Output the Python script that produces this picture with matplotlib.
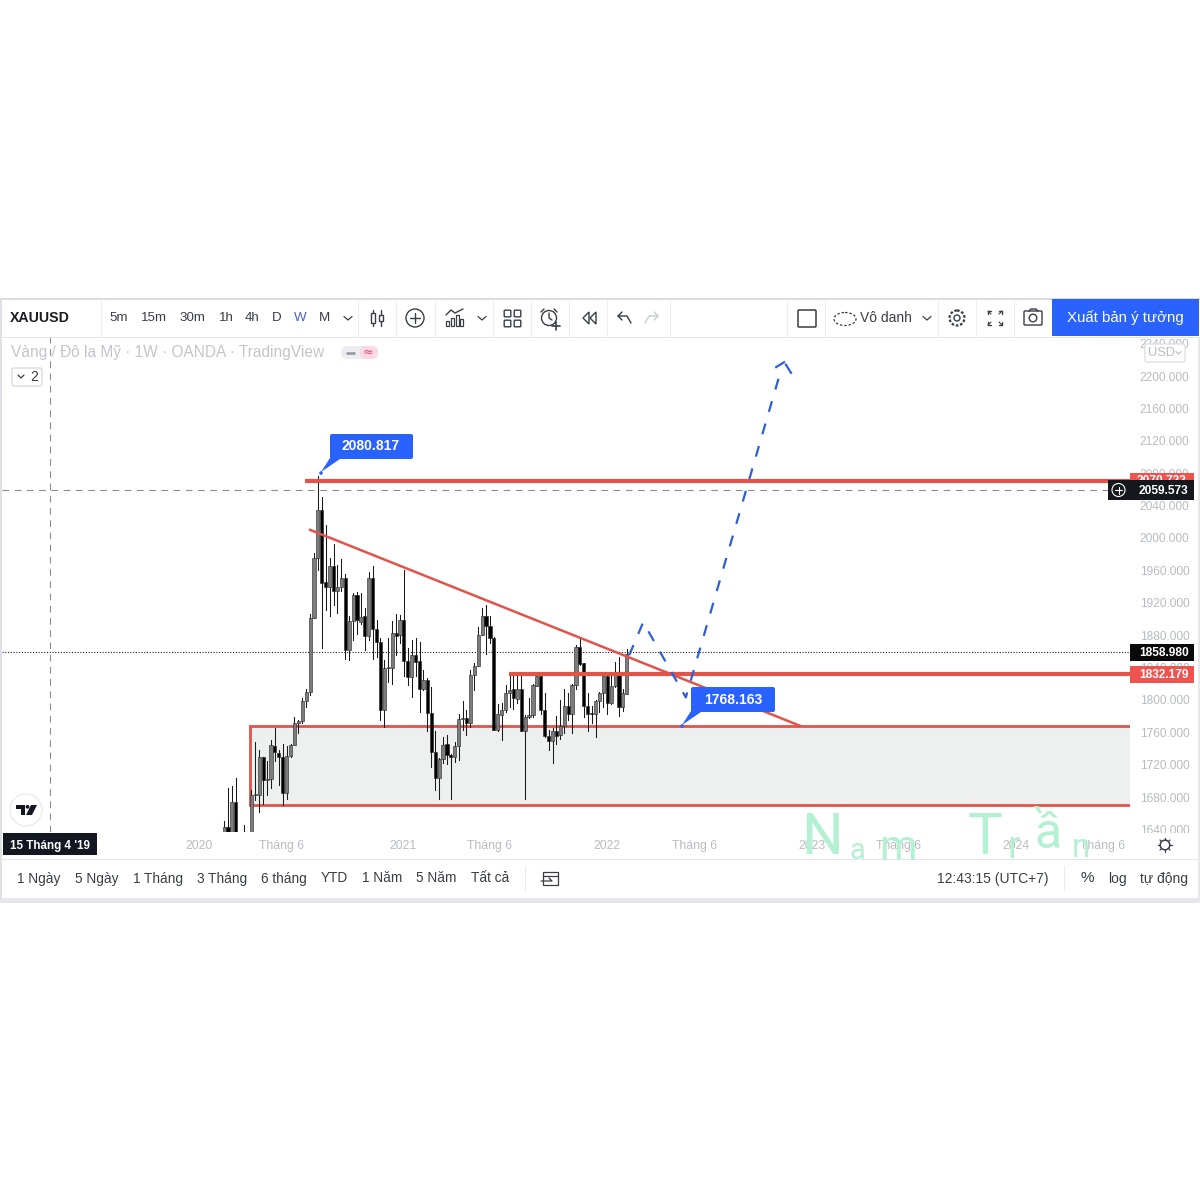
import matplotlib
matplotlib.use("Agg")
import matplotlib.pyplot as plt
from matplotlib.patches import Rectangle, Circle, FancyBboxPatch, Polygon, Ellipse

plt.rcParams['font.family'] = ['Liberation Sans', 'DejaVu Sans']

# weekly candles, x is weeks after the 2020 tick
weeks = [6.4, 7.4, 8.4, 9.4, 11.4] + [w + 0.4 for w in range(13, 110)]
opens = [1625, 1643, 1625, 1674, 1625, 1625, 1682, 1682, 1730, 1701, 1702, 1743, 1734, 1730, 1685, 1731, 1744, 1771, 1774, 1798,
         1810, 1901, 1975, 2034, 1945, 1940, 1965, 1934, 1940, 1950, 1861, 1898, 1930, 1896, 1903, 1879, 1951, 1888, 1871, 1787,
         1839, 1839, 1882, 1880, 1899, 1848, 1828, 1855, 1848, 1813, 1825, 1784, 1735, 1703, 1727, 1745, 1732, 1729, 1743, 1776,
         1777, 1771, 1831, 1842, 1880, 1903, 1891, 1877, 1763, 1781, 1787, 1808, 1814, 1801, 1813, 1762, 1779, 1781, 1817, 1829,
         1787, 1755, 1749, 1762, 1756, 1768, 1793, 1782, 1818, 1865, 1845, 1792, 1783, 1783, 1798, 1809, 1829, 1796, 1817, 1833,
         1791, 1807]
highs = [1650, 1691, 1693, 1703, 1645, 1689, 1748, 1738, 1730, 1724, 1751, 1765, 1738, 1745, 1743, 1745, 1779, 1775, 1802, 1814,
         1906, 1981, 2076, 2050, 2016, 1975, 1992, 1967, 1974, 1956, 1903, 1932, 1933, 1932, 1913, 1958, 1965, 1899, 1876, 1849,
         1876, 1897, 1906, 1905, 1960, 1864, 1874, 1876, 1872, 1837, 1827, 1816, 1761, 1728, 1754, 1756, 1733, 1748, 1783, 1798,
         1787, 1837, 1845, 1890, 1913, 1917, 1903, 1878, 1795, 1796, 1818, 1833, 1831, 1833, 1831, 1781, 1802, 1819, 1833, 1831,
         1808, 1763, 1765, 1780, 1800, 1813, 1808, 1819, 1868, 1876, 1846, 1808, 1793, 1800, 1810, 1831, 1831, 1829, 1847, 1853,
         1814, 1863]
lows = [1625, 1625, 1625, 1625, 1625, 1625, 1676, 1662, 1672, 1682, 1691, 1724, 1695, 1670, 1677, 1730, 1744, 1759, 1771, 1791,
        1806, 1901, 1960, 1864, 1911, 1903, 1917, 1907, 1934, 1850, 1849, 1874, 1881, 1894, 1861, 1874, 1850, 1853, 1775, 1767,
        1822, 1820, 1855, 1870, 1829, 1818, 1804, 1829, 1785, 1812, 1761, 1717, 1689, 1677, 1722, 1721, 1678, 1723, 1726, 1763,
        1756, 1767, 1812, 1842, 1880, 1857, 1870, 1763, 1762, 1750, 1785, 1791, 1789, 1796, 1761, 1678, 1777, 1779, 1817, 1783,
        1754, 1738, 1722, 1746, 1752, 1759, 1775, 1759, 1814, 1843, 1779, 1762, 1771, 1754, 1785, 1791, 1782, 1795, 1816, 1780,
        1786, 1807]
closes = [1643, 1625, 1674, 1625, 1628, 1682, 1684, 1730, 1701, 1702, 1744, 1735, 1729, 1685, 1731, 1744, 1771, 1774, 1798, 1810,
          1901, 1975, 2034, 1944, 1940, 1965, 1934, 1940, 1950, 1861, 1898, 1930, 1899, 1902, 1879, 1951, 1888, 1871, 1787, 1839,
          1840, 1882, 1879, 1899, 1848, 1828, 1855, 1847, 1813, 1825, 1784, 1735, 1703, 1727, 1744, 1732, 1730, 1743, 1776, 1777,
          1771, 1831, 1842, 1880, 1903, 1891, 1877, 1763, 1782, 1787, 1809, 1812, 1802, 1813, 1761, 1779, 1781, 1818, 1829, 1787,
          1755, 1749, 1762, 1755, 1768, 1793, 1782, 1818, 1865, 1844, 1792, 1782, 1782, 1798, 1809, 1829, 1796, 1817, 1833, 1791,
          1808, 1857]

price_ticks = [2240, 2200, 2160, 2120, 2080, 2040, 2000, 1960, 1920, 1880, 1840, 1800, 1760, 1720, 1680, 1640]
time_ticks = [0, 21, 52.2, 74.2, 104.3, 126.6, 156.8, 178.8, 209, 231]
time_labels = ['2020', 'Tháng 6', '2021', 'Tháng 6', '2022', 'Tháng 6', '2023', 'Tháng 6', '2024', 'Tháng 6']

peak_price = 2080.817
resist_price = 2070.722
mid_price = 1832.179
box_top = 1768.163
box_bottom = 1670
cross_price = 2059.573
last_price = 1858.980
cross_week = -38.1

trend_weeks = [28.4, 153.7]
trend_prices = [2010, 1768]
path_weeks = [110, 113.6, 124.5, 149.0]
path_prices = [1855, 1896, 1803, 2210]
head_left_weeks = [147.6, 149.6]
head_left_prices = [2211, 2217]
head_right_weeks = [150.1, 151.4]
head_right_prices = [2214, 2204]

top_frames = [('5m', 119), ('15m', 154), ('30m', 192), ('1h', 226), ('4h', 252), ('D', 277), ('W', 300), ('M', 324)]
bottom_ranges = [('1 Ngày', 39), ('5 Ngày', 97), ('1 Tháng', 158), ('3 Tháng', 222), ('6 tháng', 284), ('YTD', 334),
                 ('1 Năm', 382), ('5 Năm', 436), ('Tất cả', 490)]
separators = [101, 358, 396, 435, 493, 531, 569, 607, 670, 787, 825, 938, 976, 1014]

BLUE = '#2962ff'
RED = '#ef5350'
LINE_RED = '#e2534a'
GREY = '#b8bbc2'
DARK = '#3a3d46'

fig = plt.figure(figsize=(12, 12), dpi=100, facecolor='white')


def pixel_rect(x0, y0, x1, y1):
    return [x0 / 1200, 1 - y1 / 1200, (x1 - x0) / 1200, (y1 - y0) / 1200]


# chart panel
ax = fig.add_axes(pixel_rect(2, 337, 1130, 832), zorder=1)
ax.set_xlim(-50.4, 238.1)
ax.set_ylim(1636.8, 2248.2)
for s in ax.spines.values():
    s.set_visible(False)
ax.yaxis.tick_right()
ax.set_yticks(price_ticks)
ax.set_yticklabels(['%.3f' % p for p in price_ticks], fontsize=8.6, color=GREY)
ax.set_xticks(time_ticks)
ax.set_xticklabels(time_labels, fontsize=8.8, color=GREY)
ax.tick_params(axis='y', length=0, pad=7)
ax.tick_params(axis='x', length=0, pad=5.8)

# zone and levels
ax.add_patch(Rectangle((13, box_bottom), 225, box_top - box_bottom, facecolor='#eeefef', edgecolor='none', zorder=1))
ax.plot([13, 13], [box_bottom, box_top], color=LINE_RED, lw=2, zorder=2, solid_capstyle='butt')
ax.plot([13, 238.1], [box_top, box_top], color=LINE_RED, lw=2, zorder=2)
ax.plot([13, 238.1], [box_bottom, box_bottom], color=LINE_RED, lw=2, zorder=2)
ax.plot([27, 238.1], [resist_price, resist_price], color=LINE_RED, lw=3, zorder=5, solid_capstyle='butt')
ax.plot([79.3, 238.1], [mid_price, mid_price], color=LINE_RED, lw=3, zorder=5, solid_capstyle='butt')
ax.plot(trend_weeks, trend_prices, color=LINE_RED, lw=1.8, zorder=5)

# crosshair and last price line
ax.axhline(cross_price, color='#8a8d95', lw=0.8, dashes=(6, 5), zorder=2)
ax.axvline(cross_week, color='#8a8d95', lw=0.8, dashes=(6, 5), zorder=2)
ax.axhline(last_price, color='#222222', lw=0.8, dashes=(1, 1.5), zorder=2)

# candles
for w, o, h, l, c in zip(weeks, opens, highs, lows, closes):
    ax.plot([w, w], [l, h], color='#1a1a1a', lw=0.75, zorder=3)
    face = '#7c7c7c' if c >= o else '#000000'
    ax.add_patch(Rectangle((w - 0.4, min(o, c)), 0.8, max(abs(c - o), 1.2),
                           facecolor=face, edgecolor='#222222', lw=0.4, zorder=4))

# projected path
ax.plot(path_weeks, path_prices, color='#2f5fd8', lw=1.6, dashes=(5, 5.5), zorder=6)
ax.plot(head_left_weeks, head_left_prices, color='#2f5fd8', lw=1.6, zorder=6)
ax.plot(head_right_weeks, head_right_prices, color='#2f5fd8', lw=1.6, zorder=6)

# everything around the chart is drawn in image pixels
ui = fig.add_axes([0, 0, 1, 1], zorder=2)
ui.set_xlim(0, 1200)
ui.set_ylim(1200, 0)
ui.axis('off')
ui.patch.set_alpha(0)


def box(x0, y0, x1, y1, color, z=2, **kw):
    ui.add_patch(Rectangle((x0, y0), x1 - x0, y1 - y0, facecolor=color, edgecolor='none', zorder=z, **kw))


def line(xs, ys, color=DARK, lw=1.0, z=4, **kw):
    ui.plot(xs, ys, color=color, lw=lw, zorder=z, solid_capstyle='round', **kw)


def label(x, y, s, size=10, color=DARK, ha='center', z=5, **kw):
    ui.text(x, y, s, fontsize=size, color=color, ha=ha, va='center', zorder=z, **kw)


# panels that hide the chart edges
box(0, 298, 1200, 337, 'white')
box(1130, 833, 1200, 859, 'white', z=2)
box(0, 859, 1200, 899, 'white')
box(0, 298, 1200, 299.5, '#d9dbe0', z=3)
box(0, 336.5, 1200, 337.5, '#e3e5ea', z=3)
box(0, 859, 1200, 860, '#e3e5ea', z=3)
box(0, 898, 1200, 903, '#e6e7ea', z=3)
box(0, 298, 2, 899, '#dfe1e6', z=3)
box(1198, 337, 1200, 899, '#e6e7ea', z=3)
for x in separators:
    box(x, 299, x + 1, 337, '#eceef1', z=3)

label(40, 318, 'XAUUSD', size=10.2, color='#1a1c22', fontweight='bold')
for s, x in top_frames:
    label(x, 318, s, size=9.6, color='#4a5fd0' if s == 'W' else DARK)
line([344, 348, 352], [316.5, 320, 316.5], lw=0.9)

# candle icon
line([373, 373], [310, 326])
line([381, 381], [310, 326])
ui.add_patch(Rectangle((371, 313), 4, 10, facecolor='white', edgecolor=DARK, lw=1, zorder=5))
ui.add_patch(Rectangle((379, 315), 4, 6, facecolor='white', edgecolor=DARK, lw=1, zorder=5))
# plus icon
ui.add_patch(Circle((415, 318), 9, facecolor='none', edgecolor=DARK, lw=1, zorder=4))
line([410, 420], [318, 318])
line([415, 415], [313, 323])
# indicators icon
line([446, 451, 455, 463], [315, 310, 313, 309])
for x, h in [(447, 5), (452, 8), (457, 11), (461, 7)]:
    ui.add_patch(Rectangle((x - 1.5, 326 - h), 3, h, facecolor='white', edgecolor=DARK, lw=0.9, zorder=4))
line([478, 482, 486], [316.5, 320, 316.5], lw=0.9)
# layout icon
for x in (504, 514):
    for y in (310, 320):
        ui.add_patch(FancyBboxPatch((x + 1, y + 1), 5, 5, boxstyle='round,pad=0.8', facecolor='none', edgecolor=DARK, lw=1, zorder=4))
# alarm icon
ui.add_patch(Circle((549, 318), 7.5, facecolor='white', edgecolor=DARK, lw=1, zorder=4))
line([549, 549, 552], [313, 318, 320])
line([541, 544], [312, 309])
line([557, 554], [312, 309])
line([552, 560], [326, 326], lw=1.2, z=6)
line([556, 556], [322, 330], lw=1.2, z=6)
# rewind icon
ui.add_patch(Polygon([(589, 312), (583, 318), (589, 324)], closed=True, facecolor='none', edgecolor=DARK, lw=1, zorder=4))
ui.add_patch(Polygon([(596, 312), (590, 318), (596, 324)], closed=True, facecolor='none', edgecolor=DARK, lw=1, zorder=4))
# undo and redo
line([631, 627, 618, 622], [323, 316, 316, 312])
line([618, 622], [316, 320])
line([645, 649, 658, 654], [323, 316, 316, 312], color='#c8cad0')
line([658, 654], [316, 320], color='#c8cad0')
# square
ui.add_patch(FancyBboxPatch((799, 311), 16, 15, boxstyle='round,pad=1', facecolor='none', edgecolor=DARK, lw=1.1, zorder=4))
# cloud
ui.add_patch(Ellipse((845, 319), 22, 13, facecolor='none', edgecolor=DARK, lw=0.9, ls=(0, (2, 1.5)), zorder=4))
label(886, 317.5, 'Vô danh', size=10)
line([923, 927, 931], [316.5, 320, 316.5], lw=0.9)
# gear
ui.add_patch(Circle((957, 318), 7.5, facecolor='none', edgecolor=DARK, lw=1.6, ls=(0, (1.2, 0.8)), zorder=4))
ui.add_patch(Circle((957, 318), 3, facecolor='none', edgecolor=DARK, lw=1, zorder=4))
# fullscreen
for sx, sy in [(-1, -1), (1, -1), (-1, 1), (1, 1)]:
    cx, cy = 995 + sx * 7, 318 + sy * 7
    line([cx - sx * 3, cx, cx], [cy, cy, cy - sy * 3])
    line([cx, cx - sx * 3], [cy, cy - sy * 3], lw=0.8)
# camera
ui.add_patch(FancyBboxPatch((1025, 312), 16, 12, boxstyle='round,pad=1', facecolor='white', edgecolor=DARK, lw=1, zorder=4))
ui.add_patch(Circle((1033, 318), 3.8, facecolor='none', edgecolor=DARK, lw=1, zorder=5))
line([1029, 1031, 1036, 1038], [311, 309, 309, 311])
# publish button
box(1052, 299, 1199, 336, BLUE, z=4)
label(1125.5, 318, 'Xuất bản ý tưởng', size=10.8, color='white')

# legend row
label(11, 352.5, 'Vàng / Đô la Mỹ · 1W · OANDA · TradingView', size=11.2, color='#c3c5cb', ha='left')
ui.add_patch(FancyBboxPatch((341, 346), 37, 13, boxstyle='round,pad=0,rounding_size=6', facecolor='#ececf1', edgecolor='none', zorder=3))
ui.add_patch(FancyBboxPatch((360, 346), 18, 13, boxstyle='round,pad=0,rounding_size=6', facecolor='#fbd9e3', edgecolor='none', zorder=3))
line([347, 354], [352.5, 352.5], color='#9a9ca5', lw=2)
label(368, 352, '≈', size=9, color='#e0457b', family=['DejaVu Sans'])
ui.add_patch(FancyBboxPatch((12, 368), 30, 18, boxstyle='round,pad=0,rounding_size=2', facecolor='white', edgecolor='#d5d7dc', lw=0.9, zorder=4))
line([18, 21, 24], [375, 378, 375], lw=0.9, z=5)
label(34, 377, '2', size=10)

# USD button hides the top tick
ui.add_patch(FancyBboxPatch((1145, 344), 40, 18, boxstyle='round,pad=0,rounding_size=2', facecolor='white', edgecolor='#dcdee3', lw=0.9, zorder=4))
label(1161, 353, 'USD', size=9.2, color=GREY)
line([1176, 1178.5, 1181], [351.5, 354, 351.5], color=GREY, lw=0.8)

# price labels on the scale
box(1130, 473, 1194, 484, RED, z=3)
label(1162, 481, '2070.722', size=8.6, color='white', fontweight='bold', z=3)
box(1108, 480, 1130, 500, '#15171d', z=4)
ui.add_patch(Circle((1118.5, 490), 6.5, facecolor='none', edgecolor='white', lw=0.8, zorder=5))
line([1115, 1122], [490, 490], color='white', lw=0.8, z=5)
line([1118.5, 1118.5], [486.5, 493.5], color='white', lw=0.8, z=5)
box(1130, 480, 1194, 500, '#15171d', z=4)
label(1163, 490.5, '%.3f' % cross_price, size=8.6, color='white', fontweight='bold')
box(1130, 644, 1194, 661, '#0a0a0d', z=4)
label(1164, 652.5, '%.3f' % last_price, size=8.6, color='white', fontweight='bold')
box(1130, 666, 1194, 683, RED, z=4)
label(1164, 674.5, '%.3f' % mid_price, size=8.6, color='white', fontweight='bold')

# callouts
ui.add_patch(FancyBboxPatch((330, 434), 83, 25, boxstyle='round,pad=0,rounding_size=2', facecolor=BLUE, edgecolor='none', zorder=5))
ui.add_patch(Polygon([(330, 458), (321, 472), (340, 459)], closed=True, facecolor=BLUE, edgecolor='none', zorder=5))
ui.add_patch(Circle((321, 473), 1.8, facecolor=BLUE, edgecolor='none', zorder=5))
label(371, 446.5, '%.3f' % peak_price, size=10, color='white', fontweight='bold', z=6)
ui.add_patch(FancyBboxPatch((691, 687), 84, 25, boxstyle='round,pad=0,rounding_size=2', facecolor=BLUE, edgecolor='none', zorder=5))
ui.add_patch(Polygon([(691, 711), (682, 725), (701, 712)], closed=True, facecolor=BLUE, edgecolor='none', zorder=5))
ui.add_patch(Circle((682, 726), 1.8, facecolor=BLUE, edgecolor='none', zorder=5))
label(733, 699.5, '%.3f' % box_top, size=10, color='white', fontweight='bold', z=6)

# logo
ui.add_patch(Circle((26, 810), 16, facecolor='white', edgecolor='#ebecef', lw=1, zorder=4))
ui.add_patch(Polygon([(16, 805), (25, 805), (25, 815), (21, 815), (21, 809), (16, 809)], closed=True, facecolor='#131722', zorder=5))
ui.add_patch(Circle((27.5, 806.8), 1.9, facecolor='#131722', zorder=5))
ui.add_patch(Polygon([(31, 805), (37, 805), (32, 815), (26, 815)], closed=True, facecolor='#131722', zorder=5))

# date label
box(3, 833, 97, 855, '#131722', z=4)
label(49.5, 845.5, "15 Tháng 4 '19", size=8.4, color='white', fontweight='bold')

# sun icon
ui.add_patch(Circle((1165, 845), 4.8, facecolor='none', edgecolor=DARK, lw=1.1, zorder=4))
for dx, dy in [(7, 0), (-7, 0), (0, 7), (0, -7), (5, 5), (-5, 5), (5, -5), (-5, -5)]:
    line([1165 + dx * 0.75, 1165 + dx], [845 + dy * 0.75, 845 + dy], lw=0.9)

# bottom row
for s, x in bottom_ranges:
    label(x, 878.5, s, size=9.8, color=DARK)
box(525, 866, 526, 891, '#e8eaee', z=3)
ui.add_patch(Rectangle((543, 872), 15, 13, facecolor='none', edgecolor=DARK, lw=0.9, zorder=4))
line([543, 558], [876, 876], lw=0.9)
line([541, 552, 549], [881, 881, 878], lw=0.9, z=5)
label(993, 878.5, '12:43:15 (UTC+7)', size=10)
box(1064, 866, 1065, 891, '#e8eaee', z=3)
label(1087, 878.5, '%', size=11)
label(1117, 878.5, 'log', size=10)
label(1164, 878.5, 'tự động', size=10)

# handwritten signature
MINT = '#b4f0d2'
for s, x, y, size in [('N', 822, 838, 42), ('a', 857, 851, 21), ('m', 898, 849, 31),
                      ('T', 985, 839, 42), ('r', 1014, 848, 27), ('ầ', 1048, 834, 36), ('n', 1081, 848, 24)]:
    ui.text(x, y, s, fontsize=size, color=MINT, ha='center', va='center', zorder=7, family=['Roboto', 'DejaVu Sans'])

fig.savefig('out.png', dpi=100)
